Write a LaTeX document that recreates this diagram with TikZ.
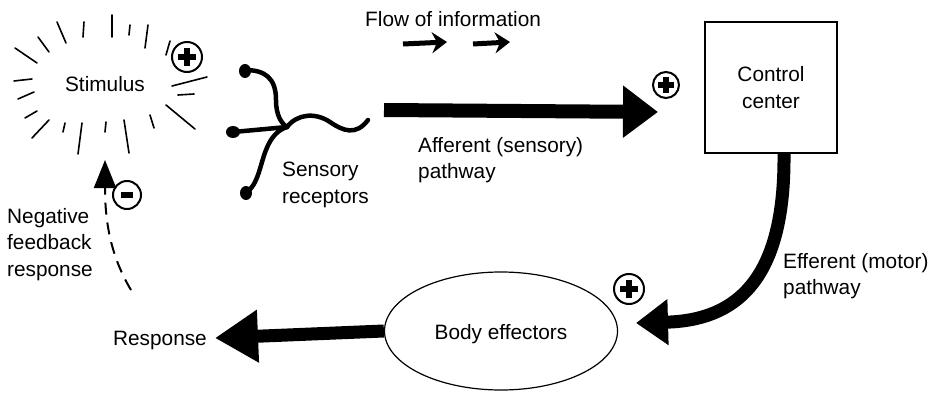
\documentclass[tikz,border=0pt]{standalone}
\usepackage{fontspec}
\setmainfont{Liberation Sans}
\usetikzlibrary{arrows.meta,shapes.geometric}
\begin{document}
\begin{tikzpicture}[x=1pt,y=-1pt,
  lbl/.style={font=\fontsize{20.8}{26.5}\selectfont, inner sep=0pt},
  ray/.style={line width=1.6pt, line cap=round},
  nerve/.style={line width=4.5pt, line cap=round},
  bulb/.style={fill=black},
  bigarrow/.style={line width=14pt, -{Triangle[length=35pt,width=50pt]}},
  flowarrow/.style={line width=5pt, -{Stealth[length=15pt,width=21pt,inset=5pt]}},
  signring/.style={circle, draw, line width=2pt, inner sep=0pt},
  signbar/.style={line width=5.5pt},
]
\useasboundingbox (0,0) rectangle (934,393);

% ---- stimulus with radiating strokes ----
\node[lbl, anchor=base] (stim) at (105,92) {Stimulus};
\foreach \xa/\ya/\xb/\yb in {15/48/37/63, 38/37/49/52, 57/22/66/43,
    84/22/83/37, 112/15/112/37, 130/25/129/35, 148/25/145/48,
    170/41/166/55, 172/86/207/77, 178/95/194/94, 166/105/195/129,
    150/115/154/128, 124/120/129/153, 106/122/105/132,
    82/123/78/154, 65/123/63/132, 49/120/32/138, 37/111/25/118,
    34/92/18/99, 32/79/14/81}
  \draw[ray] (\xa,\ya) -- (\xb,\yb);

% ---- sensory receptors ----
\coordinate (junc) at (287,127);
\draw[nerve] (245,70) .. controls (265,70) and (276,78) .. (276,100)
             .. controls (276,115) and (281,123) .. (junc);
\draw[nerve] (233,132) .. controls (255,130) .. (junc);
\draw[nerve] (246,193) .. controls (258,185) and (260,165) .. (266,150)
             .. controls (271,137) and (278,130) .. (junc);
\draw[nerve] (junc) .. controls (297,114) and (315,112) .. (330,122)
             .. controls (343,131) and (356,136) .. (368,120);
\fill[bulb] (245,71) ellipse [x radius=6, y radius=7];
\fill[bulb] (233,132) ellipse [x radius=7, y radius=6];
\fill[bulb] (246,193) ellipse [x radius=6, y radius=7];
\node[lbl, anchor=north west, align=left] (recep) at (282,162) {Sensory\\receptors};

% ---- flow of information ----
\node[lbl, anchor=base west] (flow) at (365,27) {Flow of information};
\coordinate (f1a) at (403,44); \coordinate (f1b) at (447,42);
\coordinate (f2a) at (473,44); \coordinate (f2b) at (510,42);
\draw[flowarrow] (f1a) -- (f1b);
\draw[flowarrow] (f2a) -- (f2b);

% ---- control center ----
\node[draw, line width=1.2pt, minimum width=132pt, minimum height=131pt,
      lbl, align=center] (ctrl) at (771,87.5) {Control\\center};

% ---- afferent pathway ----
\coordinate (affA) at (384,110);
\coordinate (affB) at (658,112);
\draw[bigarrow] (affA) -- (affB);
\node[lbl, anchor=north west, align=left] (afftxt) at (418,137) {Afferent (sensory)\\pathway};

% ---- body effectors ----
\node[ellipse, draw, line width=1.2pt, minimum width=233pt, minimum height=118pt,
      inner sep=0pt] (eff) at (501,331) {};
\node[lbl, anchor=base] (efftxt) at (501,339) {Body effectors};

% ---- efferent pathway ----
\coordinate (effTip) at (636,323);
\draw[line width=13pt, -{Triangle[length=32pt,width=44pt]}]
  ([xshift=13pt]ctrl.south) .. controls (785,265) and (748,320) .. (effTip);
\node[lbl, anchor=north west, align=left] (efftext) at (783,253) {Efferent (motor)\\pathway};

% ---- response ----
\coordinate (respTip) at (215,338);
\draw[line width=13pt, -{Triangle[length=43pt,width=50pt]}] (eff.west) -- (respTip);
\node[lbl, anchor=base east] (resp) at (207,345) {Response};

% ---- negative feedback ----
\coordinate (fbA) at (131,290);
\coordinate (fbB) at (105,160);
\draw[line width=2pt, dash pattern=on 12pt off 8pt,
      -{Triangle[length=28pt,width=22pt]}]
  (fbA) .. controls (110,255) and (105,220) .. (fbB);
\node[lbl, anchor=north west, align=left] (fbtxt) at (7,208) {Negative\\feedback\\response};

% ---- plus / minus marks ----
\foreach \n/\px/\py/\r/\arm in {pa/187/57/30/9, pb/666/85/26/8, pc/629/289/30/9} {
  \node[signring, minimum size=\r pt] (\n) at (\px,\py) {};
  \draw[signbar] ([xshift=-\arm pt]\n.center) -- ([xshift=\arm pt]\n.center);
  \draw[signbar] ([yshift=-\arm pt]\n.center) -- ([yshift=\arm pt]\n.center);
}
\node[signring, minimum size=28pt] (minus) at (127,195) {};
\draw[signbar] ([xshift=-6pt]minus.center) -- ([xshift=6pt]minus.center);
\end{tikzpicture}
\end{document}
